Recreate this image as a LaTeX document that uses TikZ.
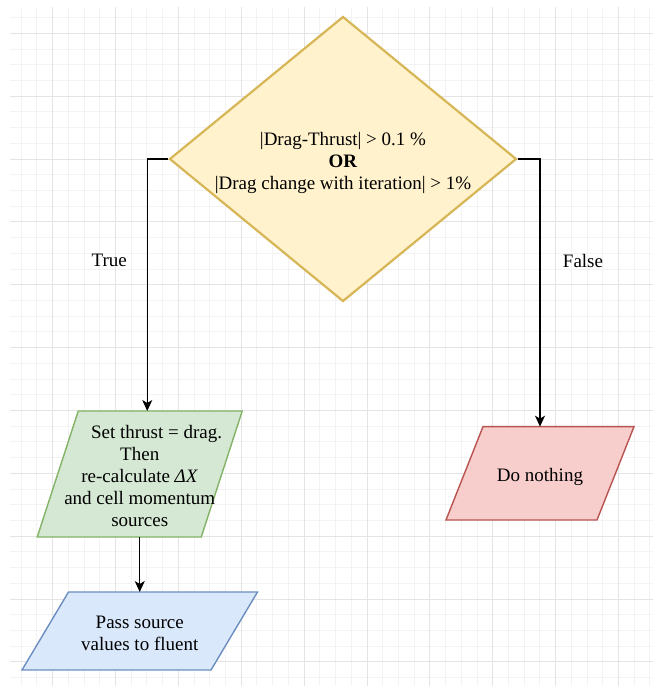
\documentclass[tikz,border=0pt]{standalone}
\usepackage{fontspec}
\setmainfont{Liberation Serif}
\usetikzlibrary{shapes.geometric,arrows.meta}

\definecolor{yfill}{HTML}{FFF2CC}
\definecolor{ydraw}{HTML}{D6B656}
\definecolor{gfill}{HTML}{D5E8D4}
\definecolor{gdraw}{HTML}{82B366}
\definecolor{rfill}{HTML}{F8CECC}
\definecolor{rdraw}{HTML}{B85450}
\definecolor{bfill}{HTML}{DAE8FC}
\definecolor{bdraw}{HTML}{6C8EBF}
\definecolor{gridminor}{HTML}{F3F3F3}
\definecolor{gridmajor}{HTML}{E4E4E4}

\pgfdeclarelayer{grid}
\pgfdeclarelayer{shapes}
\pgfsetlayers{grid,shapes,main}

% parallelogram outline drawn on the frame of a rectangular node
\newcommand\paraframe[3]{%
  \begin{pgfonlayer}{shapes}
    \draw[#3] ([xshift=#2]#1.north west) -- (#1.north east)
      -- ([xshift=-#2]#1.south east) -- (#1.south west) -- cycle;
  \end{pgfonlayer}}

\tikzset{
  every node/.style={font=\fontsize{19}{22}\selectfont},
  cond/.style={diamond, aspect=1.22, draw=ydraw, fill=yfill, line width=2.2pt,
    minimum width=347pt, minimum height=285pt, inner sep=0pt},
  frame/.style={rectangle, inner sep=0pt, outer sep=0pt},
  caption/.style={inner sep=0pt, align=center},
  conn/.style={line width=1.3pt, -{Stealth[length=11pt,width=10pt,inset=3pt]}},
  gline/.style={line width=1pt},
  greenpara/.style={fill=gfill, draw=gdraw, line width=1.4pt},
  redpara/.style={fill=rfill, draw=rdraw, line width=1.4pt},
  bluepara/.style={fill=bfill, draw=bdraw, line width=1.4pt},
  lbl/.style={inner sep=0pt}
}

\begin{document}
\begin{tikzpicture}[x=1pt, y=-1pt]
  \useasboundingbox (0,0) rectangle (653,688);

  % white sheet and background grid
  \begin{pgfonlayer}{grid}
    \fill[white] (0,0) rectangle (653,688);
    \foreach \k in {-2,...,38} {
      \pgfmathsetmacro\gx{52.7+15.715*\k}
      \draw[gline, gridminor] (\gx,7) -- (\gx,686);
    }
    \foreach \k in {-1,...,41} {
      \pgfmathsetmacro\gy{33.3+15.715*\k}
      \draw[gline, gridminor] (10,\gy) -- (653,\gy);
    }
    \foreach \k in {0,...,9} {
      \pgfmathsetmacro\gx{52.7+62.86*\k}
      \draw[gline, gridmajor] (\gx,7) -- (\gx,686);
    }
    \foreach \k in {0,...,10} {
      \pgfmathsetmacro\gy{33.3+62.86*\k}
      \draw[gline, gridmajor] (10,\gy) -- (653,\gy);
    }
  \end{pgfonlayer}

  % decision
  \node[cond] (cond) at (343,159) {};
  \node[caption, font=\fontsize{19}{21.7}\selectfont] (condtext) at ([yshift=-4pt]cond.center)
    {|Drag-Thrust| > 0.1 \%\\ \textbf{OR}\\ |Drag change with iteration| > 1\%};

  % actions
  \node[frame, minimum width=205pt, minimum height=126pt] (green) at (139.75,474) {};
  \paraframe{green}{41pt}{greenpara}
  \node[caption] (greentext) at ([yshift=-1.5pt]green.center)
    {\hspace*{33.6pt}Set thrust = drag.\\ Then\\ re-calculate \textit{ΔX}\\ and cell momentum\\ sources};

  \node[frame, minimum width=188pt, minimum height=93.3pt] (red) at (540,473.3) {};
  \paraframe{red}{37pt}{redpara}
  \node[caption] (redtext) at ([yshift=-3.5pt]red.center) {Do nothing};

  \node[frame, minimum width=235.5pt, minimum height=78pt] (blue) at (139.75,631) {};
  \paraframe{blue}{46.5pt}{bluepara}
  \node[caption] (bluetext) at ([yshift=-2pt]blue.center) {Pass source\\ values to fluent};

  % connectors
  \draw[conn] (cond.west) -| ([xshift=7.5pt]green.north);
  \draw[conn] (cond.east) -| (red.north);
  \draw[conn] (green.south) -- (blue.north);

  % branch labels
  \node[lbl] (ltrue) at (109.3,260.5) {True};
  \node[lbl] (lfalse) at (583,260.5) {False};
\end{tikzpicture}
\end{document}
